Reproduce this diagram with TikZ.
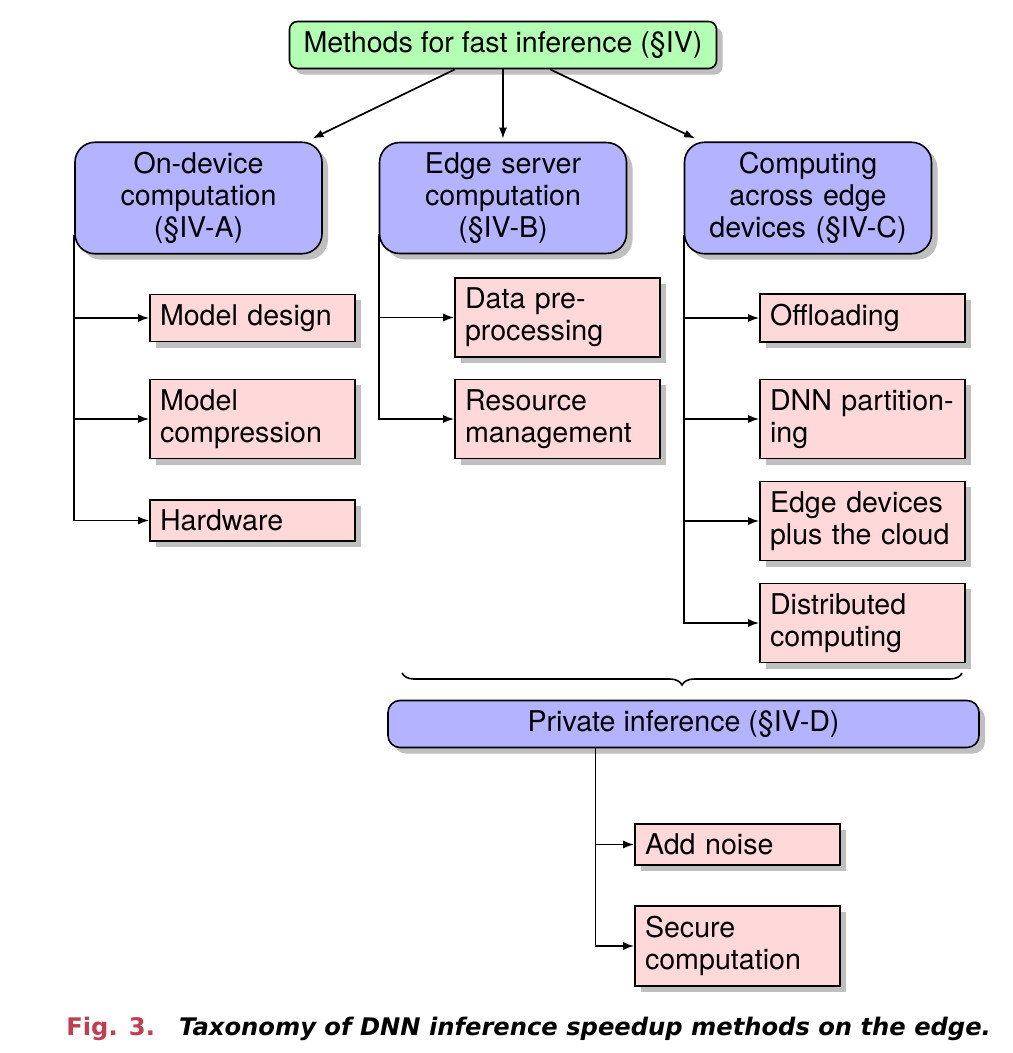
\documentclass[tikz,border=0pt]{standalone}
\usepackage{fontspec}
\setmainfont{TeX Gyre Heros}
\newfontfamily\capfont{DejaVu Sans}
\usetikzlibrary{arrows.meta,shadows,decorations.pathreplacing}

\definecolor{rootgreen}{HTML}{B3FFB3}
\definecolor{catblue}{HTML}{B3B3FF}
\definecolor{leafpink}{HTML}{FFD9D9}
\definecolor{figred}{HTML}{C13D4F}

\tikzset{
  >={Latex[length=5.5pt,width=4pt]},
  boxshadow/.style={drop shadow={shadow xshift=3pt,shadow yshift=-3pt,fill=black!25,opacity=1}},
  rootbox/.style={draw,fill=rootgreen,line width=0.8pt,rounded corners=4pt,minimum width=213.5pt,minimum height=23pt,inner sep=5pt,boxshadow},
  catbox/.style={draw,fill=catblue,line width=0.8pt,rounded corners=10pt,text width=113.5pt,align=center,minimum height=55pt,inner sep=5pt,boxshadow},
  privbox/.style={draw,fill=catblue,line width=0.8pt,rounded corners=6pt,minimum width=295.5pt,minimum height=23pt,inner sep=5pt,boxshadow},
  leafbox/.style={draw,fill=leafpink,line width=0.8pt,text width=92.5pt,align=left,inner sep=5pt,boxshadow},
  link/.style={->,draw=black,line width=0.85pt}
}

\begin{document}
\begin{tikzpicture}[x=0.5pt,y=-0.5pt,font=\fontsize{14.3}{16}\selectfont]
        \useasboundingbox (0,0) rectangle (1012,1053);

		\node[rootbox] (Methods) at (503,45) {Methods for fast inference (§IV)};

		\node[catbox] (OnDevice) at (198.5,198) {On-device\\computation\\(§IV-A)};
		\node[catbox] (EdgeServer) at (503,198) {Edge server\\computation\\(§IV-B)};
		\node[catbox] (AcrossEdge) at (808,198) {Computing\\across edge\\devices (§IV-C)};

        \node[leafbox] (ModelDesign) at (252.5,318) {Model design};
        \node[leafbox] (ModelCompr) at (252.5,419) {Model\\compression};
        \node[leafbox] (Hardware) at (252.5,520.5) {Hardware};

        \node[leafbox] (DataPre) at (557.5,317.5) {Data pre-\\processing};
        \node[leafbox] (ResourceMgmt) at (557.5,419) {Resource\\management};

        \node[leafbox] (Offloading) at (862.5,318) {Offloading};
        \node[leafbox] (Partitioning) at (862.5,419) {DNN partition-\\ing};
        \node[leafbox] (EdgeCloud) at (862.5,521) {Edge devices\\plus the cloud};
        \node[leafbox] (Distributed) at (862.5,623) {Distributed\\computing};

        \node[privbox] (Private) at (683.5,724) {Private inference (§IV-D)};
        \node[leafbox] (AddNoise) at (737.5,844.5) {Add noise};
        \node[leafbox] (SecureComp) at (737.5,946) {Secure\\computation};

		\draw[link] ([xshift=-24pt]Methods.south) to ([xshift=57pt,yshift=1.5pt]OnDevice.north);
		\draw[link] (Methods.south) to ([yshift=1.5pt]EdgeServer.north);
		\draw[link] ([xshift=23.5pt]Methods.south) to ([xshift=-56.5pt,yshift=1.5pt]AcrossEdge.north);

        \draw[link] ([yshift=10pt]OnDevice.south west) |- (ModelDesign.west);
        \draw[link] ([yshift=10pt]OnDevice.south west) |- (ModelCompr.west);
        \draw[link] ([yshift=10pt]OnDevice.south west) |- (Hardware.west);

        \draw[link] ([yshift=10pt]EdgeServer.south west) |- (DataPre.west);
        \draw[link] ([yshift=10pt]EdgeServer.south west) |- (ResourceMgmt.west);

        \draw[link] ([yshift=10pt]AcrossEdge.south west) |- (Offloading.west);
        \draw[link] ([yshift=10pt]AcrossEdge.south west) |- (Partitioning.west);
        \draw[link] ([yshift=10pt]AcrossEdge.south west) |- (EdgeCloud.west);
        \draw[link] ([yshift=10pt]AcrossEdge.south west) |- (Distributed.west);

        %%% brace over the three groups
        \draw[line width=0.8pt,decorate,decoration={brace,mirror,amplitude=6pt}] (402,673) -- (962,673);

        \draw[link] ([xshift=-44pt]Private.south) |- (AddNoise.west);
        \draw[link] ([xshift=-44pt]Private.south) |- (SecureComp.west);

        %%% Caption
        \node[anchor=base west,inner sep=0pt,font=\capfont\fontsize{12.1}{14}\selectfont\bfseries] (Caption) at (66,1035)
          {{\color{figred}Fig. 3.}\hspace{12pt}{\itshape Taxonomy of DNN inference speedup methods on the edge.}};
	\end{tikzpicture}
\end{document}
